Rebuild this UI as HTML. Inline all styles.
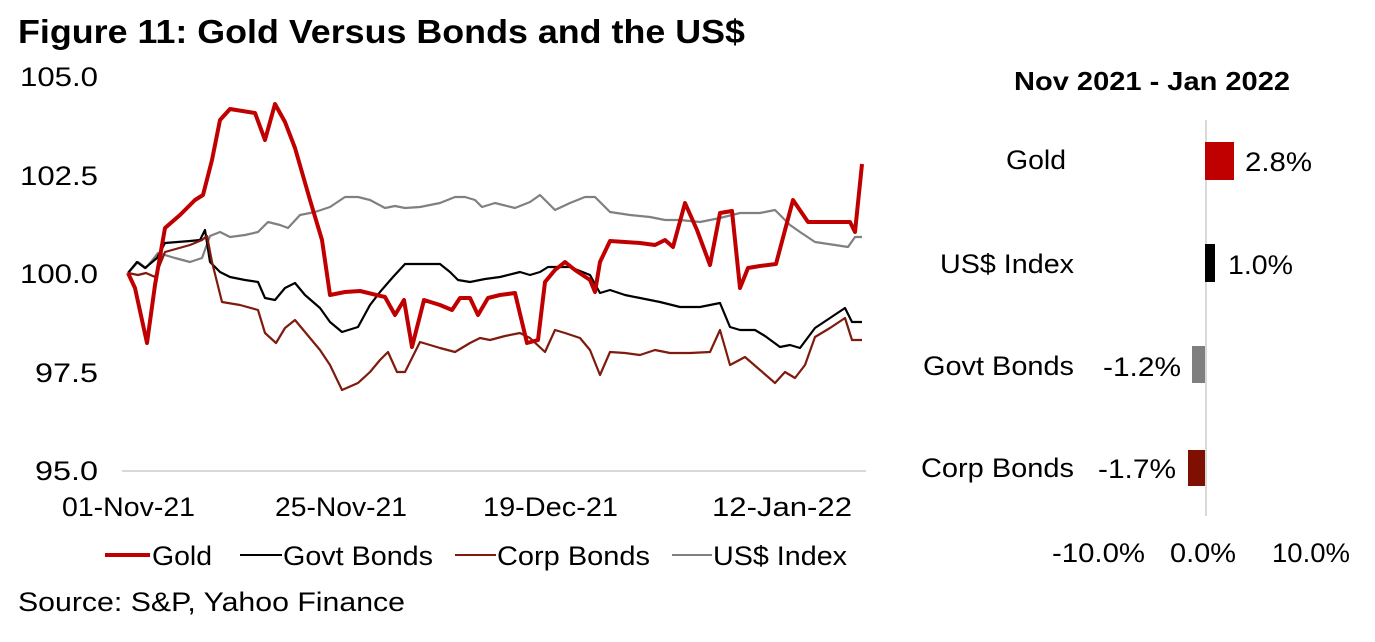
<!DOCTYPE html>
<html><head><meta charset="utf-8"><style>
body{margin:0;background:#fff;}
svg text{font-family:"Liberation Sans",Arial,sans-serif;}
</style></head><body>
<svg width="1375" height="637" viewBox="0 0 1375 637" xmlns="http://www.w3.org/2000/svg">
<rect width="1375" height="637" fill="#fff"/>
<text x="18" y="43" font-size="33" font-weight="bold" fill="#000" textLength="727" lengthAdjust="spacingAndGlyphs">Figure 11: Gold Versus Bonds and the US$</text>
<g font-size="27" fill="#000">
<text x="20" y="86" textLength="78" lengthAdjust="spacingAndGlyphs">105.0</text>
<text x="20" y="185" textLength="78" lengthAdjust="spacingAndGlyphs">102.5</text>
<text x="20" y="283" textLength="78" lengthAdjust="spacingAndGlyphs">100.0</text>
<text x="35" y="382" textLength="63" lengthAdjust="spacingAndGlyphs">97.5</text>
<text x="35" y="480" textLength="63" lengthAdjust="spacingAndGlyphs">95.0</text>
</g>
<line x1="122" y1="471" x2="866" y2="471" stroke="#d9d9d9" stroke-width="2"/>
<g font-size="27" fill="#000">
<text x="62" y="516" textLength="133" lengthAdjust="spacingAndGlyphs">01-Nov-21</text>
<text x="275" y="516" textLength="132" lengthAdjust="spacingAndGlyphs">25-Nov-21</text>
<text x="483" y="516" textLength="135" lengthAdjust="spacingAndGlyphs">19-Dec-21</text>
<text x="712" y="516" textLength="140" lengthAdjust="spacingAndGlyphs">12-Jan-22</text>
</g>
<g fill="none" stroke-linejoin="round">
<polyline stroke="#808080" stroke-width="2.2" points="128,273 138,262 146,268 158,253 175,258 190,262 202,258 210,236 220,232 230,237 245,235 258,232 268,222 280,225 288,228 300,215 315,212 330,207 345,197 358,197 370,200 385,208 395,206 405,208 420,207 440,203 455,197 465,197 475,200 482,207 495,203 515,208 530,202 540,195 555,210 570,203 585,197 595,197 610,212 630,215 650,217 665,220 680,220 700,222 720,218 740,213 760,213 775,210 790,225 800,232 815,242 835,245 848,247 855,237 862,237"/>
<polyline stroke="#000" stroke-width="2.2" points="128,273 137,262 145,268 157,258 165,243 190,241 200,240 205,230 210,262 220,272 230,277 245,280 258,282 265,298 275,300 285,288 295,283 305,295 320,308 330,322 342,332 358,327 370,305 380,292 393,277 405,264 425,264 440,264 450,272 458,280 470,282 485,279 500,277 520,272 530,275 540,272 548,267 570,267 590,275 600,293 610,290 625,295 640,298 660,302 680,307 700,307 720,303 730,327 740,330 755,330 765,336 780,347 790,345 800,348 815,328 830,318 845,308 852,322 862,322"/>
<polyline stroke="#7f1a0e" stroke-width="2.2" points="128,273 138,275 146,273 155,277 165,252 190,245 202,240 207,236 212,262 222,302 240,305 258,310 265,333 276,343 285,328 295,320 305,332 320,350 330,365 342,390 358,383 370,372 380,360 388,352 397,372 405,372 420,342 440,348 455,352 470,343 480,338 490,340 505,336 520,333 530,338 545,352 555,330 565,333 580,338 590,350 600,375 610,352 625,353 640,355 655,350 670,353 690,353 710,352 720,330 730,365 745,357 760,370 775,383 785,372 795,378 805,365 815,337 830,328 845,318 852,340 862,340"/>
<polyline stroke="#c00000" stroke-width="4" points="128,273 135,288 147,343 155,285 165,228 180,215 195,200 203,195 212,160 220,120 230,109 255,113 265,140 275,104 285,122 295,148 310,200 322,240 330,295 345,292 360,291 385,297 395,315 404,300 412,347 424,300 440,305 452,310 460,298 470,298 478,315 488,298 500,295 515,293 527,343 538,340 545,282 555,270 565,262 575,270 590,280 595,292 600,262 610,241 625,242 640,243 655,245 665,240 673,247 685,203 697,230 710,265 720,213 732,211 740,288 748,268 760,266 776,264 793,200 808,222 830,222 850,222 855,232 862,164"/>
</g>
<g font-size="27" fill="#000">
<line x1="105" y1="555" x2="150" y2="555" stroke="#c00000" stroke-width="4"/><text x="152" y="565" textLength="60" lengthAdjust="spacingAndGlyphs">Gold</text>
<line x1="240" y1="555" x2="282" y2="555" stroke="#000" stroke-width="2"/><text x="283" y="565" textLength="150" lengthAdjust="spacingAndGlyphs">Govt Bonds</text>
<line x1="455" y1="555" x2="496" y2="555" stroke="#7f1a0e" stroke-width="2"/><text x="497" y="565" textLength="153" lengthAdjust="spacingAndGlyphs">Corp Bonds</text>
<line x1="672" y1="555" x2="712" y2="555" stroke="#808080" stroke-width="2"/><text x="713" y="565" textLength="134" lengthAdjust="spacingAndGlyphs">US$ Index</text>
</g>
<text x="18" y="611" font-size="27" fill="#000" textLength="387" lengthAdjust="spacingAndGlyphs">Source: S&amp;P, Yahoo Finance</text>
<text x="1014" y="90" font-size="26" font-weight="bold" fill="#000" textLength="276" lengthAdjust="spacingAndGlyphs">Nov 2021 - Jan 2022</text>
<line x1="1206" y1="120" x2="1206" y2="516" stroke="#d9d9d9" stroke-width="2"/>
<rect x="1205" y="142" width="29" height="38" fill="#c00000"/>
<rect x="1205" y="244" width="10" height="38" fill="#000"/>
<rect x="1192" y="346" width="13" height="37" fill="#7f7f7f"/>
<rect x="1188" y="450" width="17" height="36" fill="#7f0f00"/>
<g font-size="27" fill="#000">
<text x="1006" y="169" textLength="60" lengthAdjust="spacingAndGlyphs">Gold</text><text x="1245" y="171" textLength="67" lengthAdjust="spacingAndGlyphs">2.8%</text>
<text x="940" y="273" textLength="134" lengthAdjust="spacingAndGlyphs">US$ Index</text><text x="1228" y="274" textLength="65" lengthAdjust="spacingAndGlyphs">1.0%</text>
<text x="923" y="375" textLength="151" lengthAdjust="spacingAndGlyphs">Govt Bonds</text><text x="1103" y="376" textLength="78" lengthAdjust="spacingAndGlyphs">-1.2%</text>
<text x="921" y="477" textLength="153" lengthAdjust="spacingAndGlyphs">Corp Bonds</text><text x="1098" y="478" textLength="78" lengthAdjust="spacingAndGlyphs">-1.7%</text>
</g>
<g font-size="27" fill="#000">
<text x="1052" y="562" textLength="93" lengthAdjust="spacingAndGlyphs">-10.0%</text>
<text x="1170" y="562" textLength="66" lengthAdjust="spacingAndGlyphs">0.0%</text>
<text x="1272" y="562" textLength="78" lengthAdjust="spacingAndGlyphs">10.0%</text>
</g>
</svg>
</body></html>
